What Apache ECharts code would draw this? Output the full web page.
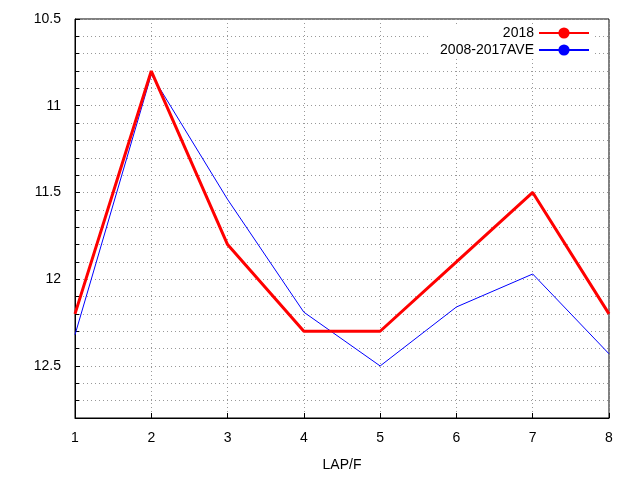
<!DOCTYPE html>
<html><head><meta charset="utf-8">
<script src="https://cdn.jsdelivr.net/npm/echarts@6/dist/echarts.min.js"></script>
<style>html,body{margin:0;padding:0;background:#fff}#c{width:640px;height:480px}</style>
</head><body><div id="c"></div>
<script>
const categories = [1, 2, 3, 4, 5, 6, 7, 8];
const series2018 = [12.2, 10.8, 11.8, 12.3, 12.3, 11.9, 11.5, 12.2];
const seriesAve = [12.32, 10.82, 11.54, 12.19, 12.5, 12.16, 11.97, 12.43];
const toPairs = a => a.map((v, i) => [categories[i], v]);
const chart = echarts.init(document.getElementById('c'));
const grid = {type: [1, 3], color: '#999', width: 1};
chart.setOption({
  backgroundColor: '#fff',
  animation: false,
  textStyle: {fontFamily: 'Liberation Sans', color: '#000'},
  grid: {left: 75, right: 31, top: 19, bottom: 62, show: true, borderColor: '#000', borderWidth: 1},
  legend: {
    right: 48, top: 24, orient: 'vertical', align: 'right', itemWidth: 50, itemHeight: 14,
    itemGap: 3, textStyle: {fontSize: 14, fontFamily: 'Liberation Sans', color: '#000'},
    data: ['2018', '2008-2017AVE'],
    backgroundColor: '#fff', padding: [2, 2, 2, 10]
  },
  xAxis: {
    type: 'value', min: 1, max: 8, interval: 1, name: 'LAP/F', nameLocation: 'middle', nameGap: 40,
    nameTextStyle: {fontSize: 14, color: '#000'},
    axisLine: {lineStyle: {color: '#000'}},
    axisTick: {inside: true, lineStyle: {color: '#000'}},
    axisLabel: {fontSize: 14, color: '#000', margin: 13},
    splitLine: {show: true, lineStyle: grid}
  },
  yAxis: {
    type: 'value', inverse: true, min: 10.5, max: 12.8, interval: 0.5,
    axisLine: {lineStyle: {color: '#000'}},
    axisTick: {inside: true, lineStyle: {color: '#000'}},
    minorTick: {show: true, splitNumber: 5, length: 4, lineStyle: {color: '#000'}},
    minorSplitLine: {show: true, lineStyle: grid},
    axisLabel: {fontSize: 14, color: '#000', margin: 14, formatter: v => v > 12.7 ? '' : String(v)},
    splitLine: {show: true, lineStyle: grid}
  },
  series: [
    {name: '2018', type: 'line', data: toPairs(series2018), symbol: 'none', color: '#ff0000', lineStyle: {width: 3, color: '#ff0000'}, z: 3},
    {name: '2008-2017AVE', type: 'line', data: toPairs(seriesAve), symbol: 'none', color: '#0000ff', lineStyle: {width: 1, color: '#0000ff'}, z: 2}
  ]
});
</script></body></html>
